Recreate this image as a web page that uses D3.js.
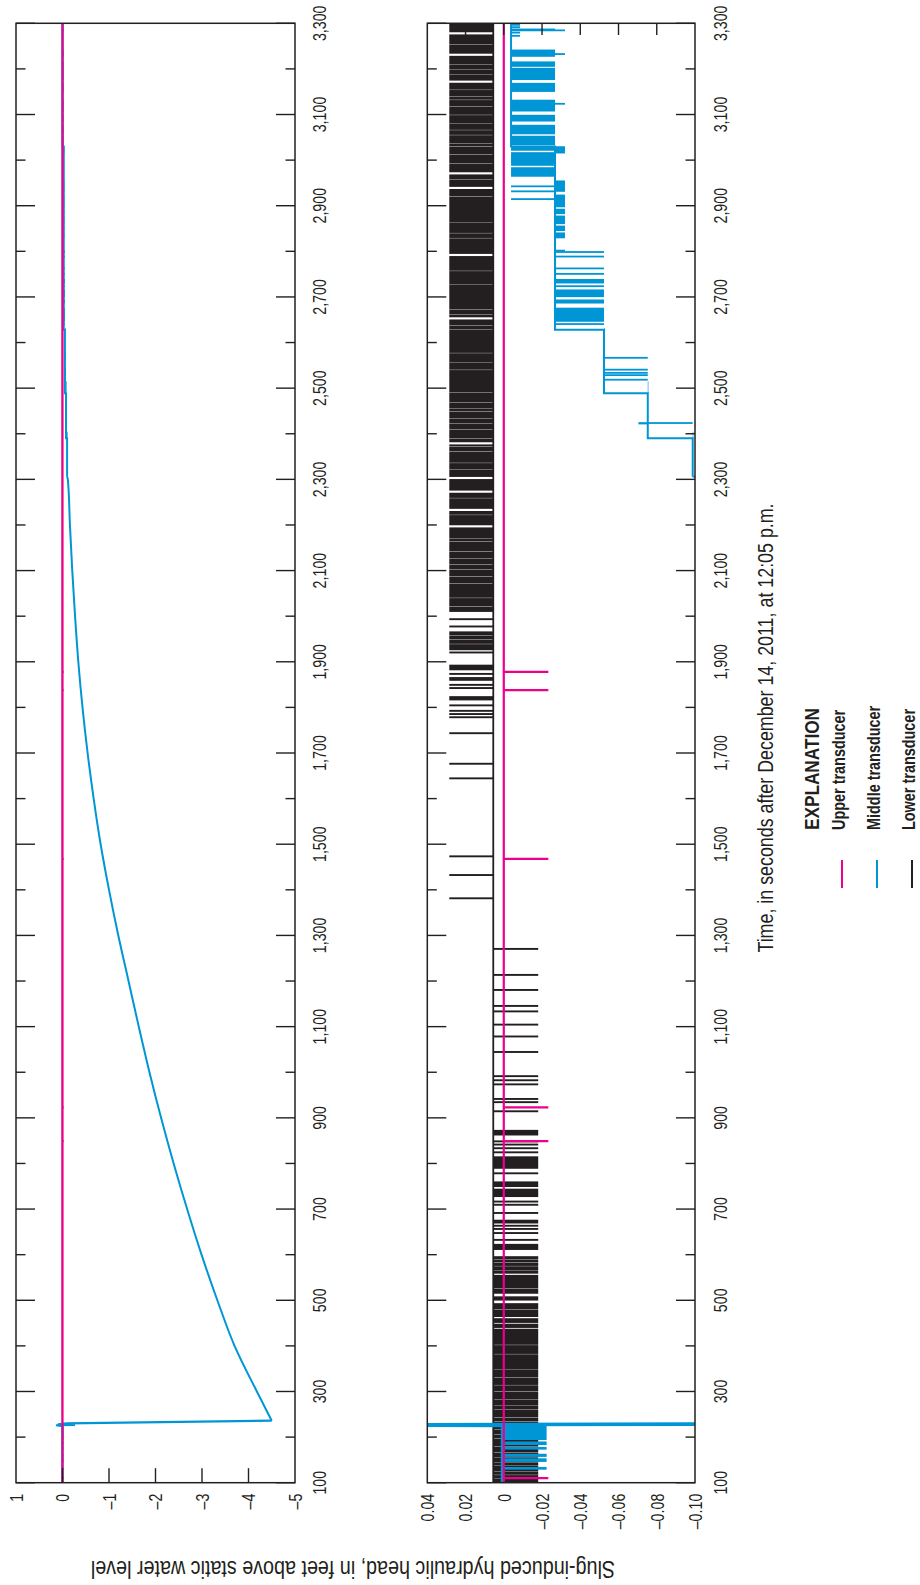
<!DOCTYPE html>
<html><head><meta charset="utf-8">
<script src="https://cdn.jsdelivr.net/npm/d3@7"></script>
<style>
html,body{margin:0;padding:0;background:#fff;}
svg{display:block;}
text{font-family:"Liberation Sans",Arial,sans-serif;fill:#231f20;}
</style></head><body>
<svg id="chart" width="920" height="1585"></svg>
<script>
// ---------- DATA ----------
const timeMajorTicks = [100,300,500,700,900,1100,1300,1500,1700,1900,2100,2300,2500,2700,2900,3100,3300];
const timeMinorTicks = [200,400,600,800,1000,1200,1400,1600,1800,2000,2200,2400,2600,2800,3000,3200];
const timeTickLabels = ["100","300","500","700","900","1,100","1,300","1,500","1,700","1,900","2,100","2,300","2,500","2,700","2,900","3,100","3,300"];
const headTicksTop = [1,0,-1,-2,-3,-4,-5];
const headLabelsTop = ["1","0","\u20131","\u20132","\u20133","\u20134","\u20135"];
const headTicksBottom = [0.04,0.02,0,-0.02,-0.04,-0.06,-0.08,-0.10];
const headLabelsBottom = ["0.04","0.02","0","\u20130.02","\u20130.04","\u20130.06","\u20130.08","\u20130.10"];
const seriesNames = ["Upper transducer","Middle transducer","Lower transducer"];
const seriesColors = ["#ec008c","#0096d6","#231f20"];

// Upper transducer: baseline and spike times
const upperBase = 0;
const upperSpikeLevel = -0.0233;
const upperSpikes = [110, 849, 923, 1468, 1838, 1878];

// Middle transducer
const middlePreJump = [[100,0.001],[224,0.001],[226,0.14],[227,-0.27],[228,0.1],[230,-0.1],[236,-4.5]];
const middleRecovery = [[236,-4.5],[300,-4.18],[400,-3.70],[500,-3.33],[600,-2.99],[700,-2.68],[800,-2.39],[900,-2.12],[1000,-1.87],[1100,-1.64],[1200,-1.42],[1300,-1.20],[1400,-1.00],[1500,-0.82],[1600,-0.67],[1700,-0.54],[1800,-0.43],[1900,-0.34],[2000,-0.27],[2100,-0.21],[2200,-0.16],[2300,-0.115],[2306,-0.0988]];
const middleSteps = [[2306,2390,-0.0988],[2390,2489,-0.0753],[2489,2628,-0.0524],[2628,3030,-0.0268],[3030,3300,-0.0038]];
const middleSpikes = [
  [129,134,-0.0224],[146,153,-0.0224],[157,163,-0.0224],[173,178,-0.0224],[183,190,-0.0224],[194,224,-0.0224],
  [2390,2404,-0.0988],[2422,2424,-0.0988],[2421,2425,-0.0704],
  [2489,2515,-0.0753],[2517,2519,-0.0753],[2527,2529,-0.0753],[2532,2534,-0.0753],[2539,2541,-0.0753],[2565,2567,-0.0753],
  [2628,2630,-0.0524],[2639,2641,-0.0524],[2646,2676,-0.0524],[2686,2694,-0.0524],[2700,2716,-0.0524],[2722,2724,-0.0524],
  [2730,2739,-0.0524],[2749,2751,-0.0524],[2761,2763,-0.0524],[2787,2790,-0.0524],[2797,2799,-0.0524],
  [2800,2802,-0.032],[2829,2841,-0.032],[2845,2856,-0.032],[2860,2878,-0.032],[2882,2893,-0.032],[2897,2924,-0.032],
  [2931,2955,-0.032],[3015,3030,-0.032],
  [2913,2915,-0.0038],[2930,2932,-0.0038],[2941,2943,-0.0038],[2964,2984,-0.0038],[2988,3017,-0.0038],[3021,3030,-0.0038],
  [3033,3053,-0.0268],[3057,3077,-0.0268],[3085,3099,-0.0268],[3107,3132,-0.0268],[3150,3169,-0.0268],[3176,3202,-0.0268],
  [3205,3216,-0.0268],[3227,3242,-0.0268],[3285,3288,-0.0268],
  [3122,3124,-0.032],[3231,3233,-0.032],[3283,3285,-0.032],
  [3271,3273,-0.0085],[3278,3280,-0.0085],[3290,3292,-0.0085],[3295,3297,-0.0085]
];

// Lower transducer: baseline, intervals at the lower / upper noise level
const lowerBase = 0.0055;
const lowerDownLevel = -0.018;
const lowerUpLevel = 0.0285;
const lowerDown = [[100,109],[111,116],[118,123],[125,136],[138,144],[146,155],[157,165],[167,178],[180,196],[198,205],[207,216],[218,233],[235,242],[244,260],[262,269],[271,282],[284,299],[301,313],[315,330],[332,348],[350,381],[383,401],[403,437],[440,448],[451,460],[464,479],[481,493],[500,508],[515,525],[527,555],[559,565],[567,574],[576,582],[584,588],[590,596],[611,623],[631,633],[646,648],[655,657],[662,664],[669,676],[690,692],[708,710],[715,717],[727,744],[749,760],[777,779],[789,815],[823,825],[832,834],[840,842],[847,849],[862,873],[913,915],[933,935],[940,942],[972,974],[981,983],[990,992],[1043,1045],[1077,1079],[1103,1105],[1132,1134],[1144,1146],[1179,1181],[1212,1214],[1269,1271]];
const lowerUp = [[1380,1382],[1431,1433],[1472,1474],[1643,1645],[1675,1677],[1742,1744],[1777,1779],[1784,1786],[1791,1793],[1803,1805],[1816,1824],[1841,1843],[1848,1850],[1859,1861],[1863,1865],[1872,1874],[1882,1893],[1919,1921],[1926,1938],[1940,1948],[1950,1957],[1959,1966],[1976,1978],[1992,1994],[2010,2020],[2022,2039],[2041,2071],[2073,2086],[2088,2101],[2103,2112],[2114,2126],[2128,2141],[2143,2163],[2165,2170],[2172,2194],[2200,2221],[2223,2230],[2236,2258],[2260,2270],[2276,2300],[2306,2320],[2322,2335],[2337,2360],[2362,2371],[2373,2376],[2382,2389],[2391,2408],[2410,2422],[2424,2433],[2435,2448],[2450,2455],[2457,2468],[2470,2490],[2492,2539],[2541,2556],[2558,2576],[2578,2627],[2629,2636],[2638,2650],[2656,2660],[2662,2671],[2673,2727],[2729,2756],[2758,2789],[2795,2828],[2830,2839],[2841,2863],[2865,2919],[2921,2936],[2942,2956],[2958,2968],[2974,2992],[2994,3011],[3013,3029],[3031,3036],[3038,3054],[3056,3065],[3067,3080],[3082,3098],[3100,3117],[3119,3131],[3133,3139],[3141,3153],[3155,3169],[3175,3186],[3188,3197],[3199,3208],[3210,3228],[3234,3252],[3254,3275],[3281,3300]];

// ---------- DRAWING ----------
const W = 920, H = 1585;
const svg = d3.select("#chart");
// the whole figure is drawn in landscape and turned a quarter turn
const g = svg.append("g").attr("transform", `translate(0,${H}) rotate(-90)`);
const ink = "#231f20";

const x = d3.scaleLinear().domain([100, 3300]).range([102.3, 1561.7]);
const y1 = d3.scaleLinear().domain([1, -5]).range([16, 295]);
const y2 = d3.scaleLinear().domain([0.04, -0.10]).range([427.3, 695]);

function middleBaseAt(t) {
  const s = middleSteps.find(d => t >= d[0] && t <= d[1]);
  return s ? s[2] : middlePreJump[0][1];
}
// condensed text: regular face squeezed horizontally
function ctext(parent, px, py, str, size, sx, anchor, extra) {
  return parent.append("text")
    .attr("transform", `translate(${px},${py})${extra || ""} scale(${sx},1)`)
    .attr("text-anchor", anchor).attr("font-size", size).text(str);
}

const panels = [
  {id: "p1", y: y1, ticks: headTicksTop, labels: headLabelsTop, headTickSide: "left", labelBase: 326, showLowerNoise: false, lowerWidth: 1.0},
  {id: "p2", y: y2, ticks: headTicksBottom, labels: headLabelsBottom, headTickSide: "right", labelBase: 727, showLowerNoise: true, lowerWidth: 1.8}
];

const defs = svg.append("defs");
const [X0, X1] = x.range();

panels.forEach(p => {
  const [Y0, Y1] = p.y.range();
  defs.append("clipPath").attr("id", "clip-" + p.id)
    .append("rect").attr("x", X0).attr("y", Y0).attr("width", X1 - X0).attr("height", Y1 - Y0);
  const pg = g.append("g");
  const dg = pg.append("g").attr("clip-path", `url(#clip-${p.id})`);
  const line = d3.line().x(d => x(d[0])).y(d => p.y(d[1]));

  // Lower transducer (black)
  if (p.showLowerNoise) {
    const lowerRects = lowerDown.map(d => [d[0], d[1], lowerDownLevel]).concat(lowerUp.map(d => [d[0], d[1], lowerUpLevel]));
    dg.append("g").selectAll("rect").data(lowerRects).join("rect")
      .attr("x", d => x(d[0]) - 0.3)
      .attr("width", d => Math.max(1.9, x(d[1]) - x(d[0]) + 0.6))
      .attr("y", d => Math.min(p.y(lowerBase), p.y(d[2])))
      .attr("height", d => Math.abs(p.y(lowerBase) - p.y(d[2])))
      .attr("fill", seriesColors[2]);
  }
  dg.append("path").attr("d", line([[100, lowerBase], [3300, lowerBase]]))
    .attr("fill", "none").attr("stroke", seriesColors[2]).attr("stroke-width", p.lowerWidth);

  // Middle transducer (blue)
  dg.append("g").selectAll("rect").data(middleSpikes).join("rect")
    .attr("x", d => x(d[0]) - 0.2)
    .attr("width", d => Math.max(1.8, x(d[1]) - x(d[0]) + 0.4))
    .attr("y", d => Math.min(p.y(middleBaseAt(d[0])), p.y(d[2])))
    .attr("height", d => Math.max(0.6, Math.abs(p.y(middleBaseAt(d[0])) - p.y(d[2]))))
    .attr("fill", seriesColors[1]);
  dg.append("path").attr("d", line(middlePreJump))
    .attr("fill", "none").attr("stroke", seriesColors[1]).attr("stroke-width", 2.2);
  dg.append("path").attr("d", line.curve(d3.curveMonotoneX)(middleRecovery))
    .attr("fill", "none").attr("stroke", seriesColors[1]).attr("stroke-width", 2);
  line.curve(d3.curveLinear);
  dg.append("path").attr("d", line(middleSteps.flatMap(d => [[d[0], d[2]], [d[1], d[2]]])))
    .attr("fill", "none").attr("stroke", seriesColors[1]).attr("stroke-width", 2);

  // Upper transducer (magenta)
  dg.append("path").attr("d", line([[100, upperBase], [3300, upperBase]]))
    .attr("fill", "none").attr("stroke", seriesColors[0]).attr("stroke-width", 2.2);
  dg.append("g").selectAll("line").data(upperSpikes).join("line")
    .attr("x1", d => x(d)).attr("x2", d => x(d))
    .attr("y1", p.y(upperBase)).attr("y2", p.y(upperSpikeLevel))
    .attr("stroke", seriesColors[0]).attr("stroke-width", 2.2);

  // frame
  pg.append("rect").attr("x", X0).attr("y", Y0).attr("width", X1 - X0).attr("height", Y1 - Y0)
    .attr("fill", "none").attr("stroke", ink).attr("stroke-width", 1.5);

  // time ticks on both long sides, pointing inward
  const tt = timeMajorTicks.map(t => [t, 19]).concat(timeMinorTicks.map(t => [t, 9.5]));
  pg.append("g").selectAll("line").data(tt).join("line")
    .attr("x1", d => x(d[0])).attr("x2", d => x(d[0]))
    .attr("y1", Y1).attr("y2", d => Y1 - d[1])
    .attr("stroke", ink).attr("stroke-width", 1.4);
  pg.append("g").selectAll("line").data(tt).join("line")
    .attr("x1", d => x(d[0])).attr("x2", d => x(d[0]))
    .attr("y1", Y0).attr("y2", d => Y0 + d[1])
    .attr("stroke", ink).attr("stroke-width", 1.4);

  // head ticks
  const inner = p.ticks.slice(1, -1);
  pg.append("g").selectAll("line").data(inner).join("line")
    .attr("y1", d => p.y(d)).attr("y2", d => p.y(d))
    .attr("x1", p.headTickSide === "left" ? X0 : X1)
    .attr("x2", p.headTickSide === "left" ? X0 + 14.5 : X1 - 11.7)
    .attr("stroke", ink).attr("stroke-width", 1.4);

  // time tick labels
  const tl = pg.append("g");
  timeMajorTicks.forEach((t, i) => ctext(tl, x(t), p.labelBase, timeTickLabels[i], 19, 0.75, "middle"));

  // head tick labels
  const hl = pg.append("g");
  p.ticks.forEach((v, i) => ctext(hl, X0 - 11, p.y(v) + 6.8, p.labels[i], 19, 0.75, "end"));
});

// axis titles
ctext(g, 24, 353, "Slug-induced hydraulic head, in feet above static water level", 23.5, 0.84, "middle", " rotate(-90)");
ctext(g, 857, 773, "Time, in seconds after December 14, 2011, at 12:05 p.m.", 21.5, 0.83, "middle");

// legend
const legendX = 755;
ctext(g, legendX, 819, "EXPLANATION", 21, 0.82, "start").attr("font-weight", "bold");
const legendY = [845, 880, 915];
seriesNames.forEach((name, i) => {
  g.append("line")
    .attr("x1", 697).attr("x2", 725)
    .attr("y1", legendY[i] - 3).attr("y2", legendY[i] - 3)
    .attr("stroke", seriesColors[i]).attr("stroke-width", 2);
  ctext(g, legendX, legendY[i], name, 18.5, 0.78, "start").attr("font-weight", "bold");
});
</script>
</body></html>
